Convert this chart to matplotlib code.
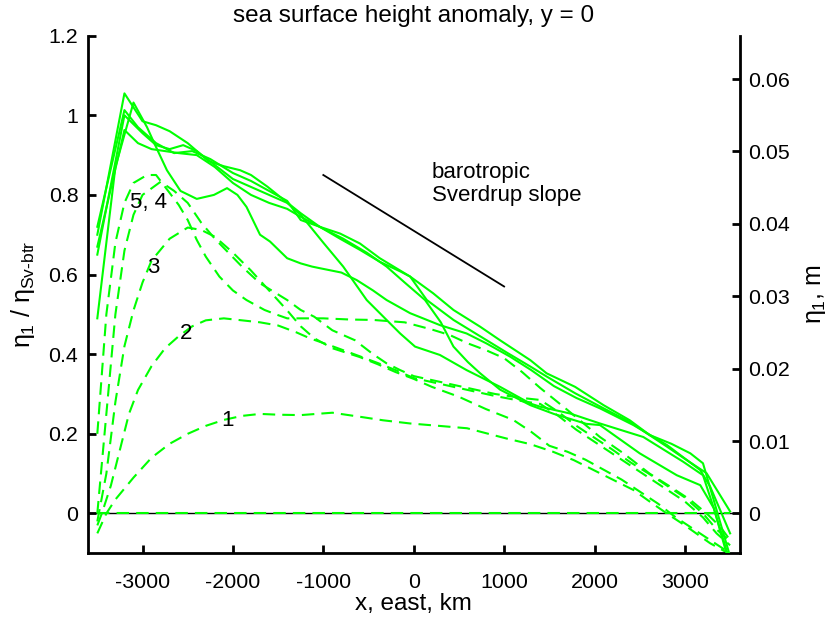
import matplotlib
matplotlib.use("Agg")
import matplotlib.pyplot as plt

plt.rcParams['font.family'] = ['Liberation Sans', 'DejaVu Sans']
plt.rcParams['mathtext.fontset'] = 'custom'
plt.rcParams['mathtext.rm'] = 'Liberation Sans'
plt.rcParams['mathtext.it'] = 'Liberation Sans'
plt.rcParams['mathtext.bf'] = 'Liberation Sans:bold'

# ---- full-depth runs (solid): x in km, eta normalised by barotropic Sverdrup value
s1_x = [-3500, -3200, -3000, -2850, -2700, -2500, -2270, -2100, -1920, -1800, -1620, -1450, -1250,
        -1040, -815, -595, -375, -150, -40, 215, 440, 735, 955, 1290, 1470, 1785, 2100, 2390,
        2610, 2850, 3060, 3200, 3490, 3520]
s1_y = [0.70, 1.055, 0.985, 0.975, 0.96, 0.93, 0.885, 0.872, 0.862, 0.85, 0.821, 0.79, 0.754,
        0.72, 0.69, 0.662, 0.632, 0.608, 0.595, 0.553, 0.511, 0.469, 0.435, 0.385, 0.352, 0.318,
        0.272, 0.234, 0.197, 0.175, 0.151, 0.126, -0.10, -0.12]

s2_x = [-3500, -3200, -3050, -2850, -2650, -2450, -2250, -2000, -1800, -1600, -1400, -1250,
        -1040, -815, -595, -375, -40, 145, 440, 735, 1030, 1290, 1470, 1785, 2100, 2390, 2580,
        2800, 3020, 3240, 3500]
s2_y = [0.72, 1.013, 0.97, 0.93, 0.905, 0.91, 0.89, 0.855, 0.835, 0.81, 0.785, 0.737,
        0.72, 0.703, 0.678, 0.641, 0.595, 0.536, 0.486, 0.445, 0.404, 0.369, 0.344, 0.302,
        0.264, 0.230, 0.201, 0.168, 0.134, 0.101, 0.005]

s3_x = [-3500, -3300, -3100, -2950, -2850, -2730, -2580, -2400, -2210, -2065, -1950, -1850,
        -1700, -1590, -1400, -1250, -1125, -1040, -800, -630, -450, -300, -40, 290, 585, 805,
        1065, 1300, 1550, 1800, 2060, 2430, 2800, 3170, 3280, 3500]
s3_y = [0.49, 0.87, 1.032, 0.97, 0.92, 0.862, 0.81, 0.79, 0.80, 0.817, 0.80, 0.77,
        0.70, 0.683, 0.641, 0.628, 0.62, 0.616, 0.605, 0.586, 0.56, 0.536, 0.503, 0.473, 0.452,
        0.427, 0.394, 0.36, 0.32, 0.29, 0.264, 0.222, 0.172, 0.109, 0.067, -0.05]

s4_x = [-3500, -3200, -3000, -2850, -2700, -2550, -2400, -2200, -2000, -1800, -1600, -1400,
        -1250, -1000, -780, -520, -300, -150, 15, 290, 585, 955, 1290, 1400, 1730, 2060, 2540,
        2980, 3200, 3320, 3470, 3500]
s4_y = [0.65, 1.0, 0.955, 0.925, 0.915, 0.925, 0.91, 0.875, 0.84, 0.82, 0.80, 0.78,
        0.75, 0.68, 0.62, 0.536, 0.486, 0.452, 0.419, 0.398, 0.36, 0.318, 0.276, 0.268,
        0.251, 0.226, 0.192, 0.13, 0.096, 0.013, -0.10, -0.12]

s5_x = [-3500, -3200, -3050, -2900, -2750, -2600, -2400, -2200, -2000, -1800, -1600, -1400,
        -1250, -1000, -780, -520, -300, -100, 125, 300, 440, 600, 735, 955, 1290, 1550, 1910,
        2060, 2500, 2910, 3170, 3320, 3460, 3500]
s5_y = [0.67, 0.963, 0.93, 0.915, 0.91, 0.905, 0.90, 0.87, 0.83, 0.80, 0.78, 0.765,
        0.745, 0.715, 0.69, 0.655, 0.62, 0.58, 0.536, 0.48, 0.419, 0.38, 0.352, 0.311, 0.272,
        0.25, 0.225, 0.222, 0.151, 0.096, 0.071, 0.013, -0.10, -0.12]

# ---- upper-layer runs (dashed), labelled 1..5
d1_x = [-3500, -3400, -3300, -3100, -2900, -2700, -2500, -2300, -2100, -1900, -1700, -1500,
        -1250, -900, -600, -340, -40, 330, 590, 810, 1030, 1290, 1540, 1770, 1990, 2210, 2430,
        2610, 2800, 3000, 3280, 3480]
d1_y = [-0.05, 0.0, 0.035, 0.09, 0.14, 0.175, 0.20, 0.22, 0.235, 0.245, 0.25, 0.248,
        0.247, 0.253, 0.243, 0.234, 0.226, 0.219, 0.214, 0.201, 0.188, 0.174, 0.155, 0.134,
        0.109, 0.084, 0.059, 0.03, 0.0, -0.03, -0.075, -0.10]

d2_x = [-3500, -3450, -3350, -3250, -3150, -3050, -2900, -2750, -2600, -2450, -2300, -2100,
        -1900, -1700, -1500, -1300, -1150, -900, -600, -400, -200, 0, 300, 600, 900, 1200,
        1400, 1600, 1800, 2000, 2200, 2400, 2600, 2800, 3000, 3200, 3350, 3500]
d2_y = [-0.03, 0.0, 0.07, 0.16, 0.25, 0.31, 0.37, 0.415, 0.445, 0.47, 0.485, 0.49,
        0.485, 0.48, 0.472, 0.455, 0.44, 0.42, 0.395, 0.378, 0.36, 0.34, 0.325, 0.31, 0.295,
        0.282, 0.275, 0.245, 0.21, 0.18, 0.15, 0.12, 0.09, 0.06, 0.03, -0.01, -0.05, -0.08]

d3_x = [-3500, -3400, -3300, -3200, -3100, -3000, -2900, -2700, -2500, -2350, -2200, -2000,
        -1800, -1600, -1400, -1250, -1100, -900, -600, -400, -200, 0, 200, 500, 800, 1100,
        1300, 1500, 1700, 1900, 2100, 2300, 2500, 2700, 2900, 3100, 3300, 3500]
d3_y = [-0.02, 0.10, 0.28, 0.42, 0.51, 0.58, 0.635, 0.69, 0.718, 0.712, 0.695, 0.655,
        0.61, 0.56, 0.51, 0.47, 0.44, 0.415, 0.393, 0.375, 0.355, 0.338, 0.318, 0.293, 0.262,
        0.235, 0.205, 0.17, 0.155, 0.135, 0.11, 0.085, 0.055, 0.025, -0.01, -0.04, -0.07, -0.10]

d4_x = [-3500, -3400, -3300, -3200, -3100, -3000, -2800, -2650, -2500, -2350, -2200, -2050,
        -1900, -1700, -1400, -1250, -1100, -900, -650, -450, -300, -150, 0, 300, 600, 900,
        1200, 1400, 1600, 1800, 2000, 2200, 2400, 2600, 2800, 3000, 3200, 3350, 3500]
d4_y = [0.0, 0.25, 0.50, 0.66, 0.75, 0.80, 0.833, 0.81, 0.78, 0.73, 0.69, 0.655,
        0.62, 0.578, 0.536, 0.511, 0.494, 0.46, 0.435, 0.40, 0.377, 0.36, 0.345, 0.33, 0.315,
        0.30, 0.29, 0.285, 0.255, 0.22, 0.19, 0.16, 0.128, 0.10, 0.07, 0.04, 0.0, -0.04, -0.07]

d5_x = [-3500, -3400, -3300, -3200, -3100, -2950, -2850, -2750, -2600, -2500, -2400, -2300,
        -2150, -2000, -1850, -1650, -1500, -1400, -1000, -700, -450, -100, 200, 400, 600, 800,
        1000, 1200, 1400, 1700, 2060, 2320, 2610, 2840, 3060, 3240, 3390, 3500]
d5_y = [0.20, 0.50, 0.68, 0.78, 0.83, 0.85, 0.85, 0.82, 0.775, 0.737, 0.687, 0.645,
        0.595, 0.56, 0.536, 0.511, 0.498, 0.49, 0.49, 0.487, 0.486, 0.48, 0.462, 0.448, 0.427,
        0.41, 0.39, 0.355, 0.315, 0.26, 0.192, 0.151, 0.10, 0.067, 0.034, 0.0, -0.033, -0.067]

d0_x = [-3500, 3500]
d0_y = [0.0, 0.0]

# reference slope of the barotropic Sverdrup solution
slope_x = [-1000, 1000]
slope_y = [0.85, 0.57]

labels = ["1", "2", "3", "5, 4"]
label_x = [-2055, -2520, -2880, -2935]
label_y = [0.233, 0.451, 0.618, 0.781]

eta_sv = 0.055          # barotropic Sverdrup height, m
x_ticks = [-3000, -2000, -1000, 0, 1000, 2000, 3000]
y_ticks = [0, 0.2, 0.4, 0.6, 0.8, 1.0, 1.2]
y2_ticks = [0, 0.01, 0.02, 0.03, 0.04, 0.05, 0.06]

green = '#00ff00'
dash = (0, (6.0, 3.4))

fig = plt.figure(figsize=(8.31, 6.22), dpi=100)
ax = fig.add_axes([0.1059, 0.1105, 0.784, 0.8322])

ax.axhline(0, color='black', lw=1.0, zorder=1)
for xs, ys in [(d0_x, d0_y), (d1_x, d1_y), (d2_x, d2_y), (d3_x, d3_y), (d4_x, d4_y), (d5_x, d5_y)]:
    ax.plot(xs, ys, color=green, lw=1.5, linestyle=dash, zorder=2)
for xs, ys in [(s1_x, s1_y), (s2_x, s2_y), (s3_x, s3_y), (s4_x, s4_y), (s5_x, s5_y)]:
    ax.plot(xs, ys, color=green, lw=1.5, zorder=3)

ax.plot(slope_x, slope_y, color='black', lw=1.3)
ax.text(200, 0.827, 'barotropic\nSverdrup slope', fontsize=16, va='center', ha='left',
        linespacing=1.15)
for t, lx, ly in zip(labels, label_x, label_y):
    ax.text(lx, ly, t, fontsize=16, ha='center', va='center')

ax.set_xlim(-3603, 3604)
ax.set_ylim(-0.1, 1.2)
ax.set_xticks(x_ticks)
ax.set_xticklabels([str(v) for v in x_ticks])
ax.set_yticks(y_ticks)
ax.set_yticklabels(['0', '0.2', '0.4', '0.6', '0.8', '1', '1.2'])
ax.tick_params(direction='in', length=6, width=2, labelsize=15.4)
ax.tick_params(axis='x', pad=14)
ax.tick_params(axis='y', pad=7)
for side in ['top', 'right']:
    ax.spines[side].set_visible(False)
for side in ['left', 'bottom']:
    ax.spines[side].set_linewidth(2)

ax.set_title('sea surface height anomaly, y = 0', fontsize=17.5, pad=10)
ax.set_xlabel('x, east, km', fontsize=17.5, labelpad=1)
ax.set_ylabel(r'$\eta_1$ / $\eta_{\mathrm{Sv\text{-}btr}}$', fontsize=18, labelpad=8)

ax2 = ax.twinx()
ax2.set_ylim(-0.1 * eta_sv, 1.2 * eta_sv)
ax2.set_yticks(y2_ticks)
ax2.set_yticklabels(['0', '0.01', '0.02', '0.03', '0.04', '0.05', '0.06'])
ax2.tick_params(direction='in', length=6, width=2, labelsize=15.4, pad=6)
for side in ['top', 'left', 'bottom']:
    ax2.spines[side].set_visible(False)
ax2.spines['right'].set_linewidth(2)
ax2.set_ylabel(r'$\eta_1$, m', fontsize=18, labelpad=10)

fig.savefig('out.png', dpi=100)
